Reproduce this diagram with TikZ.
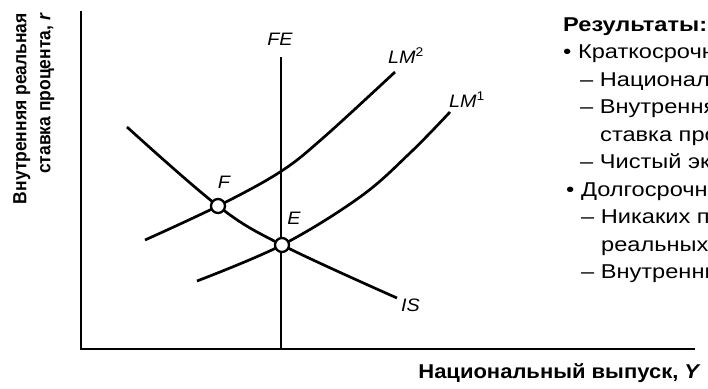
\documentclass[tikz,border=0pt]{standalone}
\usepackage{fontspec}
\setmainfont{Liberation Sans}
\newfontfamily\widesans[FakeStretch=1.18]{Liberation Sans}
\newfontfamily\midsans[FakeStretch=1.1]{Liberation Sans}
\newfontfamily\narrowsans[FakeStretch=0.92]{Liberation Sans}
\begin{document}
\begin{tikzpicture}[x=1pt,y=-1pt,
  axis/.style={line width=1.8pt},
  curve/.style={line width=2.7pt},
  pt/.style={circle,draw,fill=white,line width=2.3pt,minimum size=14pt,inner sep=0pt},
  lab/.style={font=\fontsize{18}{18}\selectfont\midsans\itshape,inner sep=0pt},
  axlab/.style={font=\fontsize{19}{24}\selectfont\narrowsans\bfseries,inner sep=0pt},
  res/.style={font=\fontsize{20}{20}\selectfont\widesans,inner sep=0pt,anchor=base west},
  resb/.style={font=\fontsize{20}{20}\selectfont\widesans\bfseries,inner sep=0pt,anchor=base west}]
\useasboundingbox (0,0) rectangle (708,388);
\begin{scope}
\clip (0,0) rectangle (708,388);
% axes
\coordinate (ytop) at (81,11);
\coordinate (orig) at (81,349);
\coordinate (xend) at (695,349);
\draw[axis] (ytop) -- (orig) -- (xend);
% FE line
\coordinate (fetop) at (281,57);
\coordinate (febot) at (281,349);
\draw[curve] (fetop) -- (febot);
% curves
\draw[curve] plot[smooth,tension=0.6] coordinates {(127,127) (218,206) (282,245) (397,298)};
\draw[curve] plot[smooth,tension=0.6] coordinates {(145,240) (218,206) (280,172) (323,138) (395,72)};
\draw[curve] plot[smooth,tension=0.6] coordinates {(197,281) (282,245) (360,197) (410,153) (450,112)};
% points
\node[pt] (F) at (218,206) {};
\node[pt] (E) at (282,245) {};
% labels
\node[lab] (Flab) at (224,182) {F};
\node[lab] (Elab) at (294,218) {E};
\node[lab] (FElab) at (280,39) {FE};
\node[lab,anchor=base west] (LM2lab) at (388,63) {LM\textsuperscript{\upshape 2}};
\node[lab,anchor=base west] (LM1lab) at (449,107) {LM\textsuperscript{\upshape 1}};
\node[lab,anchor=base west] (ISlab) at (401,311) {IS};
% axis labels
\node[axlab,rotate=90,align=right,anchor=north east] (ylab) at (13,13) {Внутренняя реальная\\ставка процента, \textit{r}};
\node[font=\fontsize{20}{20}\selectfont\midsans\bfseries,inner sep=0pt,anchor=base east] (xlab) at (701,378) {Национальный выпуск, \textit{Y}};
% results text
\node[resb] (r0) at (563,31) {Результаты:};
\node[res] (r1) at (563,58.5) {• Краткосрочный};
\node[res] (r2) at (580,86) {– Национальный};
\node[res] (r3) at (580,113.5) {– Внутренняя};
\node[res] (r4) at (600,141) {ставка процента};
\node[res] (r5) at (580,168.5) {– Чистый экспорт};
\node[res] (r6) at (566,196) {• Долгосрочный};
\node[res] (r7) at (581,223.5) {– Никаких последствий};
\node[res] (r8) at (601,251) {реальных переменных};
\node[res] (r9) at (581,278.5) {– Внутренние};
\end{scope}
\end{tikzpicture}
\end{document}
